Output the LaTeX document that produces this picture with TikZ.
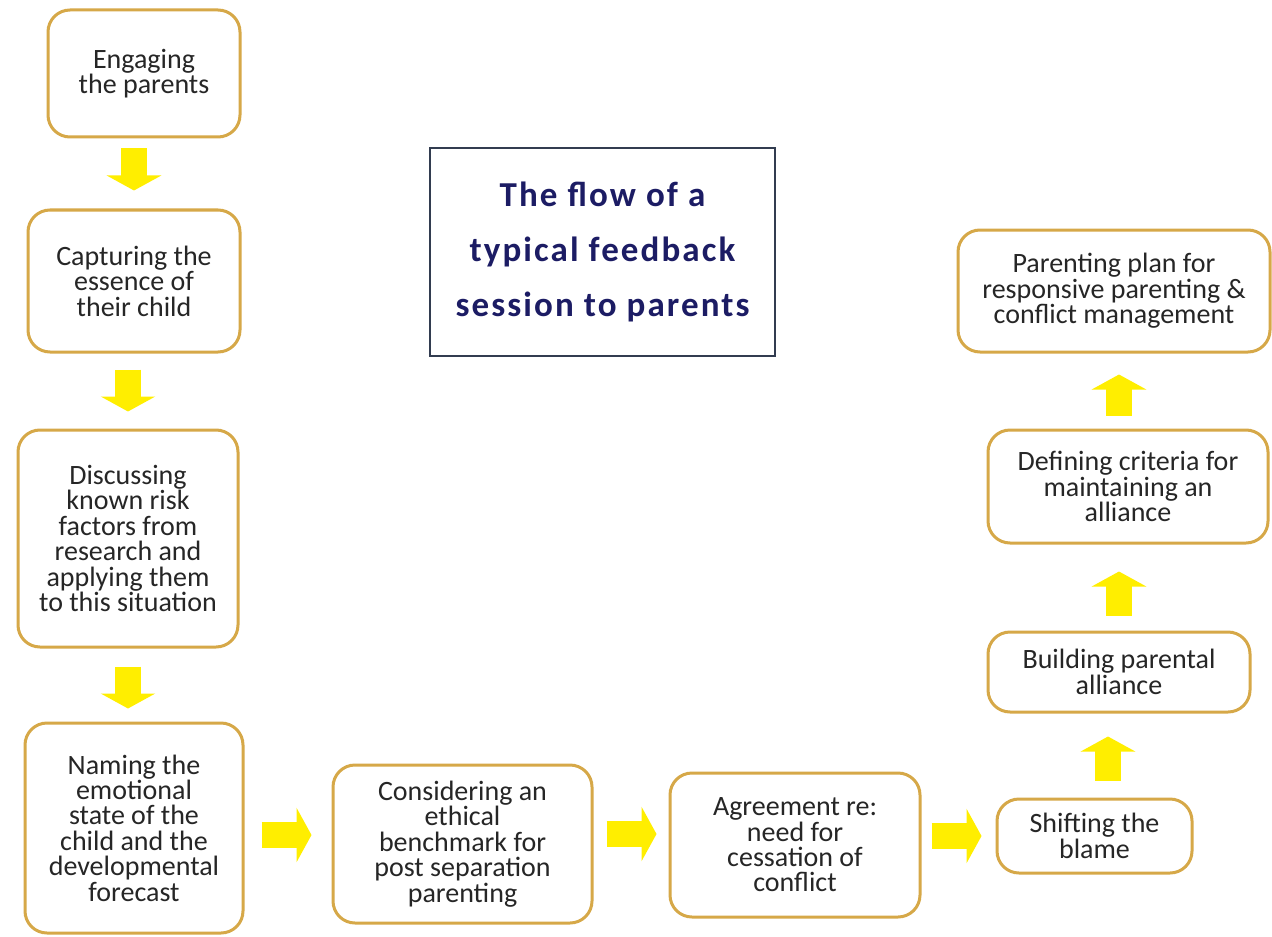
\documentclass[tikz,border=0pt]{standalone}
\usepackage{fontspec}
\setmainfont{Carlito}
\usepackage{tikz}
\usetikzlibrary{arrows.meta}
\definecolor{boxgold}{RGB}{214,168,72}
\definecolor{flowyellow}{RGB}{255,238,0}
\definecolor{titlenavy}{RGB}{28,28,100}
\definecolor{titleline}{RGB}{50,60,80}
\newcommand{\tightlines}{\lineskiplimit=-20pt\relax}

\begin{document}
\begin{tikzpicture}[x=0.5pt,y=-0.5pt,
                font=\fontsize{14}{12.7}\selectfont\tightlines,
                block/.style={rectangle, rounded corners=11pt, draw=boxgold, line width=1.5pt, fill=white, align=center, text=black!85, inner sep=2pt},
                heading/.style={rectangle, draw=titleline, line width=1.3pt, fill=white, align=center, text=titlenavy,
                                font=\fontsize{17.5}{27.5}\selectfont\bfseries\addfontfeature{LetterSpace=6}},
                flow/.style={draw=flowyellow, line width=13pt, -{Triangle[length=7.5pt,width=27pt]}}
            ]
            \useasboundingbox (0,0) rectangle (1272,936);
            \fill[white] (0,0) rectangle (1272,936);

            \node[heading, minimum width=172.5pt, minimum height=104pt] (ttl) at (602.5,252) {The flow of a\\typical feedback\\session to parents};

            % left column
            \node[block, minimum width=96pt, minimum height=63.5pt] (eng) at (144,73.5) {Engaging\\the parents};
            \node[block, minimum width=106pt, minimum height=71pt] (cap) at (134,281) {Capturing the\\essence of\\their child};
            \node[block, minimum width=110pt, minimum height=108.5pt] (dis) at (128,538.5) {Discussing\\known risk\\factors from\\research and\\applying them\\to this situation};
            \node[block, minimum width=109pt, minimum height=105pt] (nam) at (134,828) {Naming the\\emotional\\state of the\\child and the\\developmental\\forecast};

            % bottom row
            \node[block, minimum width=129.5pt, minimum height=79pt] (con) at (462.5,844) {Considering an\\ethical\\benchmark for\\post separation\\parenting};
            \node[block, minimum width=125pt, minimum height=72pt] (agr) at (795,845) {Agreement re:\\need for\\cessation of\\conflict};
            \node[block, minimum width=97.5pt, minimum height=37pt] (shi) at (1094.5,836) {Shifting the\\blame};

            % right column
            \node[block, minimum width=131pt, minimum height=40pt] (bld) at (1119,672) {Building parental\\alliance};
            \node[block, minimum width=140pt, minimum height=56.5pt] (def) at (1128,486.5) {Defining criteria for\\maintaining an\\alliance};
            \node[block, minimum width=156pt, minimum height=61pt] (par) at (1114,291) {Parenting plan for\\responsive parenting \&\\conflict management};

            \draw[flow, shorten <=5pt, shorten >=9pt] (eng.south -| cap.north) -- (cap.north);
            \draw[flow, shorten <=8pt, shorten >=8.5pt] (cap.south -| dis.north) -- (dis.north);
            \draw[flow, shorten <=9pt, shorten >=6.5pt] (dis.south) -- (dis.south |- nam.north);
            \draw[flow, shorten <=8.5pt, shorten >=10pt] ([yshift=4.5pt]con.west -| nam.east) -- ([yshift=4.5pt]con.west);
            \draw[flow, shorten <=6.5pt, shorten >=6pt] ([yshift=5pt]con.east) -- ([yshift=5pt]con.east -| agr.west);
            \draw[flow, shorten <=5pt, shorten >=7pt] (agr.east |- shi.west) -- (shi.west);
            \draw[flow, shorten <=8.5pt, shorten >=11.5pt] ([xshift=6.75pt]shi.north) -- ([xshift=6.75pt]shi.north |- bld.south);
            \draw[flow, shorten <=7.5pt, shorten >=13.5pt] (bld.north) -- (bld.north |- def.south);
            \draw[flow, shorten <=6.5pt, shorten >=10.5pt] (bld.north |- def.north) -- (bld.north |- par.south);
        \end{tikzpicture}
\end{document}
